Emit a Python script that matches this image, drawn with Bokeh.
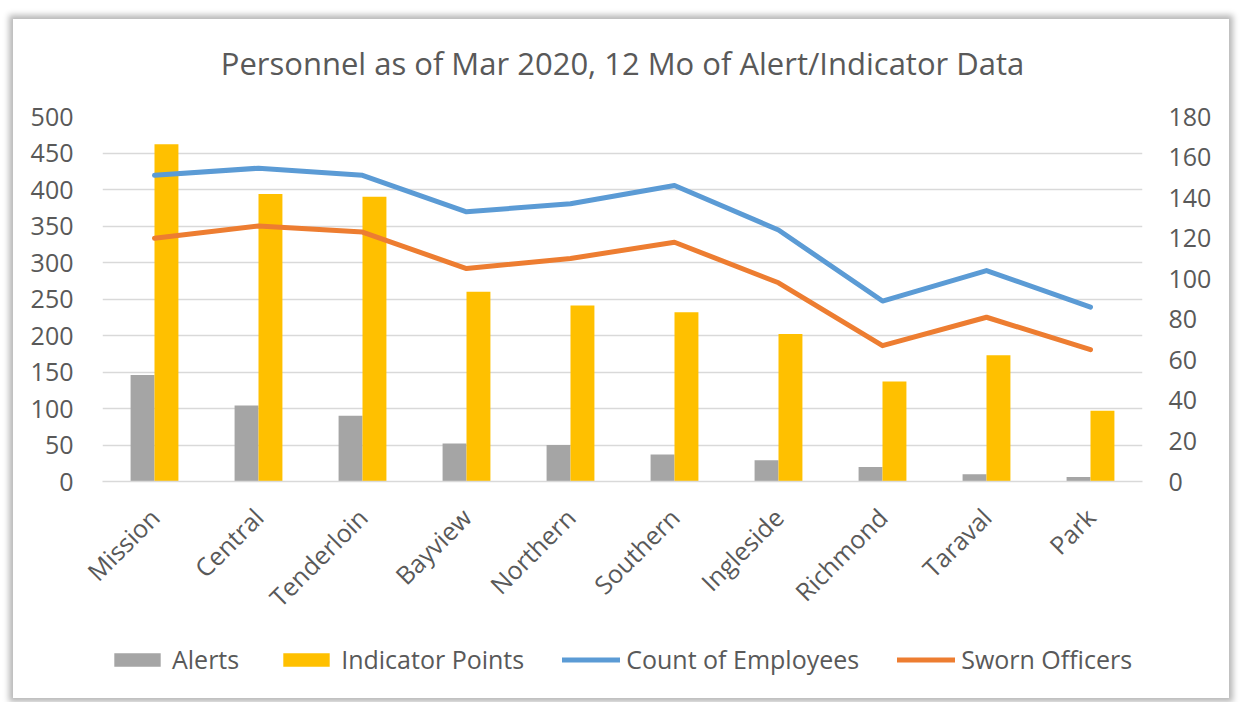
from bokeh.plotting import figure
from bokeh.layouts import column
from bokeh.models import Range1d, LinearAxis, FixedTicker, Legend, LegendItem, FactorRange, ColumnDataSource, Label
from bokeh.transform import dodge
from bokeh.embed import file_html
from bokeh.resources import INLINE

categories = ["Mission", "Central", "Tenderloin", "Bayview", "Northern",
              "Southern", "Ingleside", "Richmond", "Taraval", "Park"]
alerts = [146, 104, 90, 52, 50, 37, 29, 20, 10, 6]
indicator_points = [462, 394, 390, 260, 241, 232, 202, 137, 173, 97]
count_of_employees = [151, 154.5, 151, 133, 137, 146, 124, 89, 104, 86]
sworn_officers = [120, 126, 123, 105, 110, 118, 98, 67, 81, 65]
left_ticks = [0, 50, 100, 150, 200, 250, 300, 350, 400, 450, 500]
right_ticks = [0, 20, 40, 60, 80, 100, 120, 140, 160, 180]
series_names = ["Alerts", "Indicator Points", "Count of Employees", "Sworn Officers"]
title_text = "Personnel as of Mar 2020, 12 Mo of Alert/Indicator Data"

FONT = "Open Sans"
TXT = "#595959"
GRAY, YELLOW, BLUE, ORANGE = "#A5A5A5", "#FFC000", "#5B9BD5", "#ED7D31"
W = 1216

src = ColumnDataSource(dict(cat=categories, alerts=alerts, ind=indicator_points,
                            emp=count_of_employees, sworn=sworn_officers))


def add_series(fig, yr):
    a = fig.vbar(x=dodge("cat", -0.115, range=fig.x_range), top="alerts", width=0.23,
                 source=src, fill_color=GRAY, line_color=None)
    i = fig.vbar(x=dodge("cat", 0.115, range=fig.x_range), top="ind", width=0.23,
                 source=src, fill_color=YELLOW, line_color=None)
    e = fig.line(x="cat", y="emp", source=src, y_range_name=yr,
                 line_color=BLUE, line_width=5, line_cap="round", line_join="round")
    s = fig.line(x="cat", y="sworn", source=src, y_range_name=yr,
                 line_color=ORANGE, line_width=5, line_cap="round", line_join="round")
    return a, i, e, s


def strip(height):
    f = figure(width=W, height=height, x_range=FactorRange(*categories, range_padding=0),
               y_range=Range1d(1000, 1001), output_backend="svg", toolbar_location=None,
               x_axis_type=None, y_axis_type=None,
               min_border_left=0, min_border_right=0, min_border_top=0, min_border_bottom=0)
    f.extra_y_ranges = {"right": Range1d(1000, 1001)}
    f.grid.visible = False
    f.outline_line_color = None
    f.border_fill_color = "white"
    f.background_fill_color = "white"
    return f


# title strip
tf = strip(75)
tf.add_layout(Label(x=520, y=32, x_units="screen", y_units="screen", text=title_text,
                    text_align="center", text_baseline="middle", text_font=FONT,
                    text_font_size="31px", text_color=TXT))

# main chart
p = figure(x_range=FactorRange(*categories, range_padding=0),
           y_range=Range1d(0, 500), width=W, height=534,
           output_backend="svg", toolbar_location=None,
           min_border_left=89, min_border_right=87,
           min_border_top=22, min_border_bottom=147)
p.extra_y_ranges = {"right": Range1d(0, 180)}
p.outline_line_color = None
p.background_fill_color = "white"
p.border_fill_color = "white"

add_series(p, "right")

ya = p.yaxis[0]
ya.ticker = FixedTicker(ticks=left_ticks)
ya.axis_line_color = None
ya.major_tick_line_color = None
ya.minor_tick_line_color = None
ya.major_label_standoff = 23
ya.major_label_text_font = FONT
ya.major_label_text_font_size = "25px"
ya.major_label_text_color = TXT

ra = LinearAxis(y_range_name="right", ticker=FixedTicker(ticks=right_ticks))
ra.axis_line_color = None
ra.major_tick_line_color = None
ra.minor_tick_line_color = None
ra.major_label_standoff = 20
ra.major_label_text_font = FONT
ra.major_label_text_font_size = "25px"
ra.major_label_text_color = TXT
p.add_layout(ra, "right")

xa = p.xaxis[0]
xa.axis_line_color = "#D9D9D9"
xa.axis_line_width = 1.5
xa.major_tick_line_color = None
xa.minor_tick_line_color = None
xa.major_label_orientation = 0.785398
xa.major_label_standoff = 25
xa.major_label_text_font = FONT
xa.major_label_text_font_size = "25px"
xa.major_label_text_color = TXT

p.xgrid.visible = False
p.ygrid.grid_line_color = "#D9D9D9"
p.ygrid.grid_line_width = 1.5
p.ygrid.ticker = FixedTicker(ticks=left_ticks)

# legend strip (same series, drawn out of view so only the legend shows)
lg = strip(70)
la, li, le, ls = add_series(lg, "right")
legend = Legend(items=[LegendItem(label=series_names[0], renderers=[la]),
                       LegendItem(label=series_names[1], renderers=[li]),
                       LegendItem(label=series_names[2], renderers=[le]),
                       LegendItem(label=series_names[3], renderers=[ls])],
                location=(6, 22), orientation="horizontal",
                glyph_width=58, glyph_height=17, label_standoff=6, spacing=38,
                label_text_font=FONT, label_text_font_size="25px",
                label_text_color=TXT, border_line_color=None,
                background_fill_alpha=0, padding=0, margin=0)
lg.add_layout(legend)

layout = column(tf, p, lg, spacing=0)
layout.styles = {"margin-left": "13px", "margin-top": "19px",
                 "box-shadow": "0 0 6px 4px #b8b8b8"}

open("out.html", "w").write(file_html(layout, INLINE))
